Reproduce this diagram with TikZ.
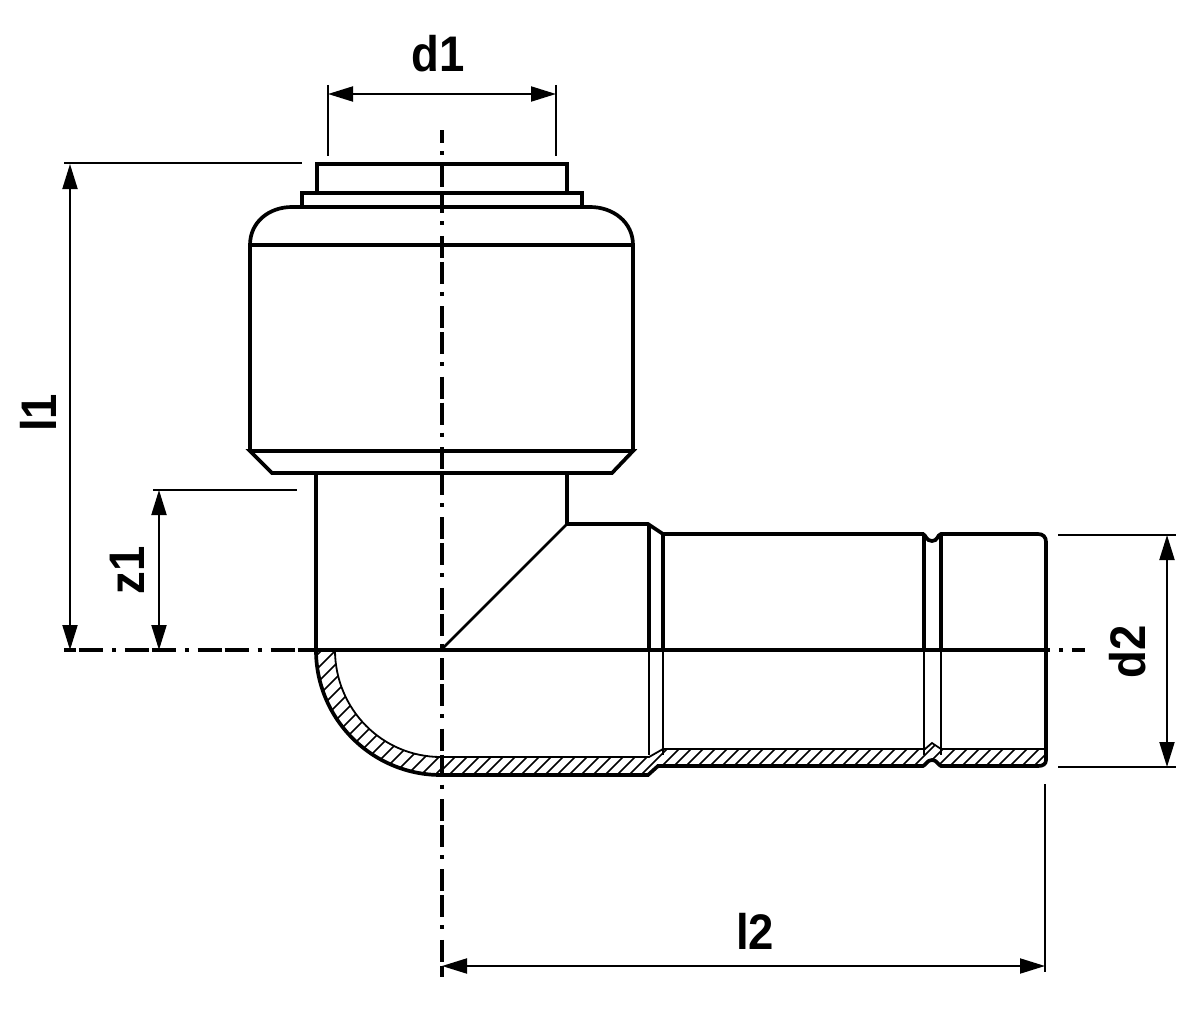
\documentclass[tikz,border=0pt]{standalone}
\usepackage{fontspec}
\setmainfont{Liberation Sans}
\usetikzlibrary{arrows.meta}
\tikzset{
    heavy/.style={black, line width=3.7pt, line join=miter},
    medium/.style={black, line width=2.6pt},
    thin line/.style={black, line width=1.8pt},
    hatchline/.style={black, line width=1.5pt},
    extline/.style={black, line width=1.8pt},
    dimline/.style={black, line width=2pt, {Triangle[length=25pt,width=15pt]}-{Triangle[length=25pt,width=15pt]}},
    axisv/.style={black, line width=3.6pt, dash pattern=on 22pt off 4pt on 22pt off 8pt on 4pt off 10.4pt, dash phase=35pt},
    axish/.style={black, line width=3.2pt, dash pattern=on 24pt off 3pt on 24pt off 9pt on 4pt off 8.85pt, dash phase=12pt},
    dimtext/.style={font=\bfseries\fontsize{50}{50}\selectfont, xscale=.91, inner sep=0pt, anchor=base}
}
\begin{document}
\begin{tikzpicture}[x=1pt,y=-1pt]
    \useasboundingbox (0,0) rectangle (1200,1025);
    % hatching of the cut wall
    \begin{scope}
        \clip (316,650) .. controls (316,719) and (372,775) .. (441,775) -- (441,757) .. controls (382,757) and (335,709) .. (335,650) -- cycle;
        \foreach \c in {958,972,...,1220} {
                \draw[hatchline] (\c-640,640) -- (\c-790,790);
            }
    \end{scope}
    \begin{scope}
        \clip (441,775) -- (648,775) -- (658,766) -- (923,766) -- (932,760) -- (941,766) -- (1038,766) -- (1046,760) -- (1046,749) -- (941,749) -- (932,743) -- (925,749) -- (663,749) -- (649,757) -- (441,757) -- cycle;
        \foreach \c in {1200,1212,...,1820} {
                \draw[hatchline] (\c-740,740) -- (\c-780,780);
            }
    \end{scope}
    % upper socket
    \draw[heavy] (317,193) -- (317,164) -- (567,164) -- (567,193);
    \draw[heavy] (302,207) -- (302,193) -- (582,193) -- (582,207);
    \draw[heavy] (250,451) -- (250,245) .. controls (250,222) and (269,207) .. (292,207) -- (590,207) .. controls (613,207) and (633,222) .. (633,245) -- (633,451);
    \draw[black, line width=3.2pt] (250,245) -- (633,245);
    \draw[heavy] (250,451) -- (633,451) -- (612,473) -- (272,473) -- cycle;
    % elbow and spigot, upper half
    \draw[heavy] (316,473) -- (316,650);
    \draw[heavy] (567,473) -- (567,524);
    \draw[medium] (567,524) -- (441,650);
    \draw[heavy] (567,524) -- (648,524) -- (663,534) -- (923,534) .. controls (926,535) and (926,541) .. (932,541) .. controls (938,541) and (937,535) .. (941,534) -- (1038,534) .. controls (1043,534) and (1046,537) .. (1046,542) -- (1046,650);
    \foreach \x/\y in {649/524, 663/534, 924/535, 941/535} {
            \draw[heavy] (\x,\y) -- (\x,650);
            \draw[thin line] (\x,650) -- (\x,755);
        }
    % lower half
    \draw[heavy] (1046,650) -- (1046,760) .. controls (1046,764) and (1043,766) .. (1038,766) -- (941,766) .. controls (938,765) and (937,760) .. (932,760) .. controls (927,760) and (926,765) .. (923,766) -- (658,766) -- (648,775) -- (441,775) .. controls (372,775) and (316,719) .. (316,650);
    \draw[thin line] (335,650) .. controls (335,709) and (382,757) .. (441,757) -- (649,757) -- (663,749) -- (925,749) -- (932,743) -- (941,749) -- (1046,749);
    \draw[heavy] (316,650) -- (1047,650);
    % axes
    \draw[axisv] (441.7,130) -- (441.7,977);
    \draw[axish] (64,650) -- (1085,650);
    % extension lines
    \draw[extline] (328,85) -- (328,156);
    \draw[extline] (556,85) -- (556,156);
    \draw[extline] (64,163) -- (302,163);
    \draw[extline] (153,490) -- (297,490);
    \draw[extline] (1058,535) -- (1176,535);
    \draw[extline] (1058,767) -- (1176,767);
    \draw[extline] (1045,784) -- (1045,972);
    % dimension arrows
    \coordinate (d1a) at (328,94);
    \coordinate (d1b) at (556,94);
    \coordinate (l1a) at (70,164);
    \coordinate (l1b) at (70,650);
    \coordinate (z1a) at (159,490);
    \coordinate (z1b) at (159,650);
    \coordinate (d2a) at (1167,535);
    \coordinate (d2b) at (1167,767);
    \coordinate (l2a) at (442,966);
    \coordinate (l2b) at (1045,966);
    \foreach \a/\b in {d1a/d1b, l1a/l1b, z1a/z1b, d2a/d2b, l2a/l2b} {
            \draw[dimline] (\a) -- (\b);
        }
    % labels
    \node[dimtext] (d1) at (438,71) {d1};
    \node[dimtext] (l2) at (755,949) {l2};
    \node[rotate=90, dimtext] (l1) at (56,413) {l1};
    \node[rotate=90, dimtext] (z1) at (144,570) {z1};
    \node[rotate=90, dimtext] (d2) at (1145,652) {d2};
\end{tikzpicture}
\end{document}
